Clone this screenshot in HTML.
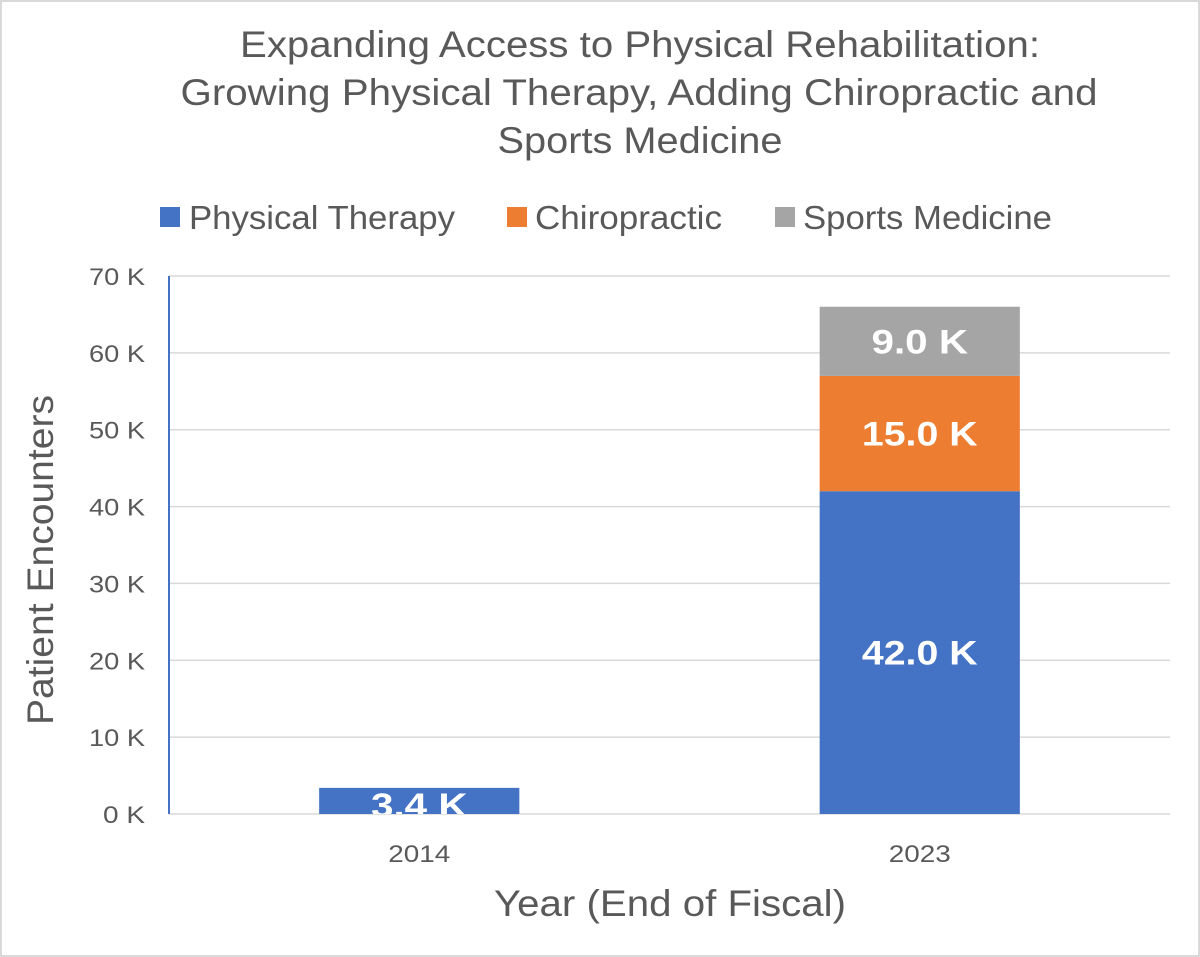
<!DOCTYPE html>
<html><head><meta charset="utf-8"><style>
html,body{margin:0;padding:0;background:#fff;}
svg{display:block;font-family:"Liberation Sans","DejaVu Sans",sans-serif;}
</style></head><body>
<svg id="chart" width="1200" height="957" viewBox="0 0 1200 957">
<rect x="1" y="1" width="1198" height="955" fill="#fff" stroke="#d9d9d9" stroke-width="2"/>
<g fill="#595959" font-size="37" text-anchor="middle" lengthAdjust="spacingAndGlyphs">
<text x="640" y="57" textLength="800" lengthAdjust="spacingAndGlyphs">Expanding Access to Physical Rehabilitation:</text>
<text x="639" y="105" textLength="917" lengthAdjust="spacingAndGlyphs">Growing Physical Therapy, Adding Chiropractic and</text>
<text x="640" y="153" textLength="285" lengthAdjust="spacingAndGlyphs">Sports Medicine</text>
</g>
<g font-size="33" fill="#595959">
<g><rect x="160" y="207" width="20" height="20" fill="#4472c4"/><text x="189" y="229" textLength="266" lengthAdjust="spacingAndGlyphs">Physical Therapy</text></g>
<g><rect x="507" y="207" width="20" height="20" fill="#ed7d31"/><text x="535" y="229" textLength="187" lengthAdjust="spacingAndGlyphs">Chiropractic</text></g>
<g><rect x="775" y="207" width="20" height="20" fill="#a5a5a5"/><text x="803" y="229" textLength="249" lengthAdjust="spacingAndGlyphs">Sports Medicine</text></g>
</g>
<defs><clipPath id="plotclip"><rect x="169" y="260" width="1001" height="554"/></clipPath></defs>
<g id="grid"></g>
<g id="yticks" font-size="24" fill="#595959" text-anchor="end"></g>
<g id="bars" clip-path="url(#plotclip)"></g>
<g id="xticks" font-size="24" fill="#595959" text-anchor="middle"></g>
<line x1="169" y1="276" x2="169" y2="814" stroke="#4472c4" stroke-width="2"/>
<text x="0" y="0" transform="translate(53,560) rotate(-90)" font-size="37" fill="#595959" text-anchor="middle" textLength="330" lengthAdjust="spacingAndGlyphs">Patient Encounters</text>
<text x="670" y="916" font-size="37" fill="#595959" text-anchor="middle" textLength="352" lengthAdjust="spacingAndGlyphs">Year (End of Fiscal)</text>
</svg>
<script>
const categories = ["2014", "2023"];
const seriesNames = ["Physical Therapy", "Chiropractic", "Sports Medicine"];
const physicalTherapy = [3.4, 42.0];
const chiropractic = [0, 15.0];
const sportsMedicine = [0, 9.0];
const yTicks = [0, 10, 20, 30, 40, 50, 60, 70];
const colors = ["#4472c4", "#ed7d31", "#a5a5a5"];
const NS = "http://www.w3.org/2000/svg";
const plotL = 169, plotR = 1170, plotT = 276, plotB = 814, yMax = 70;
const y = v => plotB - (v / yMax) * (plotB - plotT);
const band = (plotR - plotL) / categories.length;
const xc = i => plotL + band * (i + 0.5);
const barW = band * 0.4;
function mk(tag, attrs, parent) { const e = document.createElementNS(NS, tag); for (const k in attrs) e.setAttribute(k, attrs[k]); parent.appendChild(e); return e; }
const grid = document.getElementById('grid'), yt = document.getElementById('yticks');
yTicks.forEach(t => {
  const l = mk('line', {x1: plotL, x2: plotR, y1: y(t), y2: y(t), stroke: '#d9d9d9', 'stroke-width': 1.5}, grid);
  
  
  const label = t + ' K';
  const tx = mk('text', {x: 145, y: y(t) + 9, textLength: label.length * 14, lengthAdjust: 'spacingAndGlyphs'}, yt);
  tx.textContent = label;
  
  
});
const bars = document.getElementById('bars'), xt = document.getElementById('xticks');
const series = [physicalTherapy, chiropractic, sportsMedicine];
categories.forEach((c, i) => {
  let base = 0;
  series.forEach((s, j) => {
    const v = s[i];
    if (!v) return;
    const r = mk('rect', {x: xc(i) - barW / 2, y: y(base + v), width: barW, height: y(base) - y(base + v), fill: colors[j]}, bars);
    
    
    const mid = (y(base) + y(base + v)) / 2;
    const label = v.toFixed(1) + ' K';
    const lb = mk('text', {x: xc(i), y: (y(base) - y(base + v) < 40 ? y(base) + 3 : mid + 12), fill: '#fff', 'font-size': 34, 'font-weight': 'bold', 'text-anchor': 'middle', textLength: label.length * 19.3, lengthAdjust: 'spacingAndGlyphs'}, bars);
    lb.textContent = label;
    
    
    base += v;
  });
  const tx = mk('text', {x: xc(i), y: 862, textLength: 62, lengthAdjust: 'spacingAndGlyphs'}, xt);
  tx.textContent = c;
  
  
});
</script>
</body></html>
